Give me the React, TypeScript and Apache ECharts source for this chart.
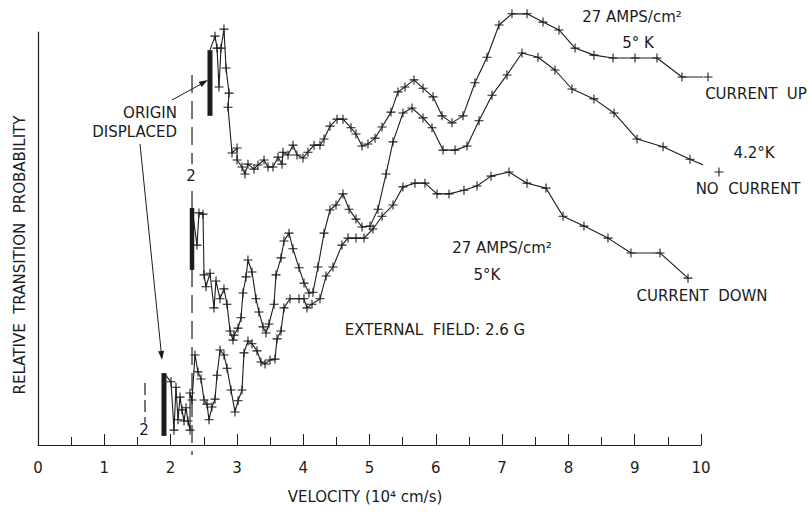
import React, { useEffect, useRef } from "react";
import * as echarts from "echarts";

const FONT = "'DejaVu Sans', 'Liberation Sans', sans-serif";
const INK = "#1c1c1c";

// x: velocity (10^4 cm/s), y: relative transition probability (arbitrary units, 0..100 = axis height)
const xTickLabels = ["0", "1", "2", "3", "4", "5", "6", "7", "8", "9", "10"];

const currentUpStart: number[] = [2.594, 95.6];
const currentUp: number[][] = [
  [2.67, 99.0], [2.7, 96.1], [2.73, 86.7], [2.76, 96.1], [2.805, 100.7], [2.836, 91.3],
  [2.881, 85.2], [2.866, 81.8], [2.926, 70.7], [3.002, 71.9], [3.002, 69.0], [3.077, 67.3],
  [3.122, 65.6], [3.167, 68.0], [3.258, 66.8], [3.318, 67.8], [3.409, 69.0], [3.469, 67.3],
  [3.544, 67.3], [3.62, 69.7], [3.68, 68.0], [3.695, 70.9], [3.771, 70.2], [3.846, 72.6],
  [3.906, 70.2], [3.997, 69.5], [4.072, 70.9], [4.163, 72.6], [4.253, 72.6], [4.314, 74.1],
  [4.404, 77.2], [4.51, 78.9], [4.6, 78.9], [4.721, 76.8], [4.796, 75.3], [4.887, 72.4],
  [4.977, 72.9], [5.083, 74.3], [5.189, 77.0], [5.324, 80.6], [5.43, 85.5], [5.535, 86.7],
  [5.671, 88.4], [5.807, 86.4], [5.958, 84.3], [6.094, 79.7], [6.244, 78.0], [6.41, 79.7],
  [6.591, 87.7], [6.772, 93.9], [6.953, 101.7], [7.149, 104.4], [7.376, 104.4], [7.617, 102.4],
  [7.858, 100.5], [8.1, 96.1], [8.386, 94.4], [8.673, 93.7], [9.005, 93.7], [9.336, 93.7],
  [9.713, 89.1], [10.106, 89.1],
];
const currentUpEnd: number[] = [10.36, 87.7];

const noCurrentStart: number[] = [2.323, 57.4];
const noCurrent: number[][] = [
  [2.398, 48.4], [2.428, 56.2], [2.489, 55.9], [2.504, 41.2], [2.534, 38.3], [2.594, 41.6],
  [2.655, 33.2], [2.685, 39.7], [2.745, 35.4], [2.805, 37.8], [2.851, 34.1], [2.896, 27.6],
  [2.941, 25.4], [2.956, 26.6], [3.017, 28.3], [3.062, 30.8], [3.092, 36.8], [3.137, 40.7],
  [3.167, 44.8], [3.228, 41.9], [3.288, 35.4], [3.333, 32.2], [3.394, 28.6], [3.439, 27.1],
  [3.484, 29.3], [3.56, 34.1], [3.59, 41.2], [3.665, 45.3], [3.71, 49.4], [3.786, 51.3],
  [3.846, 47.5], [3.937, 42.9], [4.012, 39.2], [4.087, 36.8], [4.148, 37.0], [4.223, 43.1],
  [4.314, 51.3], [4.404, 56.9], [4.495, 58.1], [4.6, 60.8], [4.691, 57.1], [4.796, 54.7],
  [4.887, 52.8], [5.008, 53.0], [5.128, 57.1], [5.249, 65.6], [5.354, 73.4], [5.505, 80.4],
  [5.641, 81.6], [5.807, 79.2], [5.943, 76.8], [6.109, 71.4], [6.29, 71.4], [6.471, 72.4],
  [6.652, 78.5], [6.848, 84.7], [7.074, 89.6], [7.3, 94.9], [7.541, 93.9], [7.798, 90.8],
  [8.054, 86.2], [8.386, 83.8], [8.688, 80.4], [9.035, 74.1], [9.427, 72.2], [9.834, 69.2],
  [10.271, 66.1],
];

const currentDownStart: number[] = [1.9, 17.4];
const currentDown: number[][] = [
  [2.006, 15.3], [2.051, 3.6], [2.081, 14.0], [2.112, 6.1], [2.142, 11.6], [2.172, 8.5],
  [2.202, 5.8], [2.232, 9.0], [2.262, 5.8], [2.293, 3.6], [2.293, 12.6], [2.323, 10.9],
  [2.368, 21.8], [2.413, 17.7], [2.459, 16.0], [2.504, 10.9], [2.549, 9.9], [2.579, 6.1],
  [2.624, 9.2], [2.67, 11.1], [2.7, 16.9], [2.745, 23.0], [2.805, 21.8], [2.851, 18.6],
  [2.911, 13.3], [2.971, 8.0], [3.017, 10.7], [3.077, 13.3], [3.107, 22.3], [3.167, 25.2],
  [3.228, 24.5], [3.303, 22.8], [3.363, 20.1], [3.424, 19.6], [3.499, 20.6], [3.575, 20.8],
  [3.605, 25.7], [3.665, 27.6], [3.71, 33.2], [3.801, 35.4], [3.937, 35.4], [4.012, 35.4],
  [4.057, 33.2], [4.133, 34.1], [4.253, 35.4], [4.344, 40.9], [4.449, 43.1], [4.585, 48.4],
  [4.676, 50.1], [4.796, 50.1], [4.917, 50.1], [5.053, 52.3], [5.189, 55.4], [5.354, 58.1],
  [5.505, 62.5], [5.686, 63.4], [5.837, 63.4], [6.018, 60.8], [6.199, 60.8], [6.425, 61.7],
  [6.621, 62.7], [6.833, 65.1], [7.104, 66.1], [7.376, 63.4], [7.662, 62.2], [7.919, 55.4],
  [8.235, 53.0], [8.597, 50.1], [8.944, 46.5], [9.382, 46.5], [9.804, 40.4],
];

// "origin displaced" thick bars
const barUp: number[][] = [[2.594, 95.6], [2.594, 79.7]];
const barNone: number[][] = [[2.323, 57.4], [2.323, 42.4]];
const barDown: number[][] = [[1.9, 17.4], [1.9, 2.2]];

// dashed origin markers
const originDashMain: (number | string)[][] = [[2.323, 89.6], [2.323, 68.0], [2.323, "-"], [2.323, 61.5], [2.323, -2.4]];
const originDashSmall: number[][] = [[1.614, 15.0], [1.614, 5.4]];

const CROSS = "path://M4.4,0H5.6V4.4H10V5.6H5.6V10H4.4V5.6H0V4.4H4.4Z";

function curve(start: number[], pts: number[][], end?: number[]) {
  const d: any[] = [{ value: start, symbol: "none" }];
  pts.forEach((p) => d.push(p));
  if (end) d.push({ value: end, symbol: "none" });
  return {
    type: "line",
    data: d,
    symbol: CROSS,
    symbolSize: 9,
    clip: false,
    lineStyle: { color: INK, width: 1.1 },
    itemStyle: { color: INK },
    z: 3,
  };
}

function seg(data: any[], width: number, dash?: number[]) {
  return {
    type: "line",
    data,
    symbol: "none",
    clip: false,
    connectNulls: false,
    lineStyle: { color: INK, width, type: dash ? dash : "solid", cap: "butt" },
    z: 2,
  };
}

function txt(x: number, y: number, text: string, align = "center", size = 15, rotation = 0) {
  return {
    type: "text",
    x,
    y,
    rotation,
    z: 10,
    style: {
      text,
      fill: INK,
      font: `${size}px ${FONT}`,
      align,
      verticalAlign: "middle",
      textAlign: align,
      textVerticalAlign: "middle",
    },
  };
}

export default function App() {
  const ref = useRef<HTMLDivElement>(null);
  useEffect(() => {
    if (!ref.current) return;
    const chart = echarts.init(ref.current, undefined, { renderer: "svg" });
    chart.setOption({
      animation: false,
      backgroundColor: "#ffffff",
      grid: { left: 38, right: 108, top: 32, bottom: 69, containLabel: false },
      xAxis: {
        type: "value",
        min: 0,
        max: 10,
        interval: 1,
        axisLine: { show: true, lineStyle: { color: INK, width: 1.2 } },
        axisTick: { show: true, inside: true, length: 11, lineStyle: { color: INK, width: 1 } },
        minorTick: { show: true, splitNumber: 2, length: 8, lineStyle: { color: INK, width: 1 } },
        splitLine: { show: false },
        minorSplitLine: { show: false },
        axisLabel: {
          color: INK,
          fontSize: 15,
          fontFamily: FONT,
          margin: 15,
          formatter: (v: number) => xTickLabels[Math.round(v)] ?? "",
        },
      },
      yAxis: {
        type: "value",
        min: 0,
        max: 100,
        axisLine: { show: true, onZero: false, lineStyle: { color: INK, width: 1.2 } },
        axisTick: { show: false },
        axisLabel: { show: false },
        splitLine: { show: false },
      },
      series: [
        curve(currentUpStart, currentUp, currentUpEnd),
        curve(noCurrentStart, noCurrent),
        curve(currentDownStart, currentDown),
        seg(barUp, 5),
        seg(barNone, 4.5),
        seg(barDown, 5),
        seg(originDashMain, 1.2, [18, 8]),
        seg(originDashSmall, 1.2, [12, 5]),
      ],
      graphic: [
        txt(632, 17, "27 AMPS/cm²"),
        txt(638, 43, "5° K"),
        txt(756, 94, "CURRENT  UP"),
        txt(754, 153, "4.2°K"),
        txt(748, 189, "NO  CURRENT"),
        txt(502, 248, "27 AMPS/cm²"),
        txt(487, 275, "5°K"),
        txt(702, 296, "CURRENT  DOWN"),
        txt(435, 330, "EXTERNAL  FIELD: 2.6 G"),
        txt(177, 113, "ORIGIN", "right"),
        txt(177, 132, "DISPLACED", "right"),
        txt(191, 176, "2"),
        txt(144, 430, "2"),
        txt(365, 497, "VELOCITY (10⁴ cm/s)"),
        txt(20, 255, "RELATIVE  TRANSITION  PROBABILITY", "center", 15, Math.PI / 2),
        {
          type: "line",
          shape: { x1: 172, y1: 100, x2: 203, y2: 83 },
          style: { stroke: INK, lineWidth: 1 },
        },
        {
          type: "polygon",
          shape: { points: [[208, 80], [201.5, 86.9], [198.7, 81.7]] },
          style: { fill: INK },
        },
        {
          type: "line",
          shape: { x1: 140, y1: 144, x2: 161.3, y2: 353 },
          style: { stroke: INK, lineWidth: 1 },
        },
        {
          type: "polygon",
          shape: { points: [[162, 360], [164.1, 350.7], [158.1, 351.3]] },
          style: { fill: INK },
        },
      ],
    });
    return () => chart.dispose();
  }, []);
  return (
    <div
      ref={ref}
      style={{ position: "fixed", left: 0, top: 0, width: 809, height: 514, background: "#fff" }}
    />
  );
}
